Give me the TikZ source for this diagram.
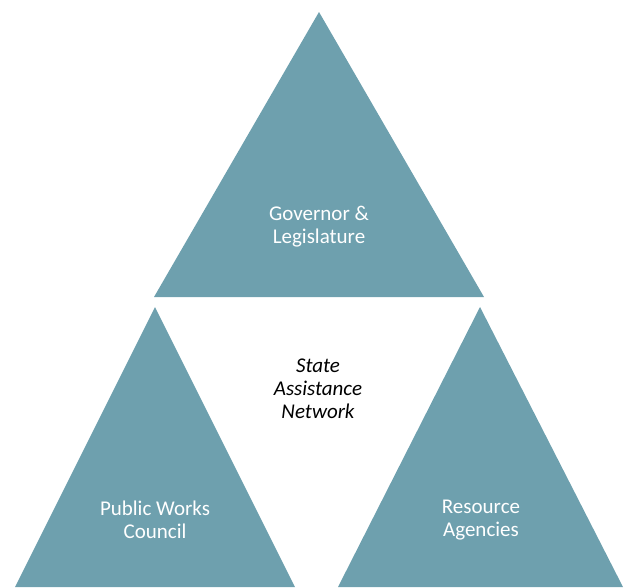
\documentclass[tikz,border=0pt]{standalone}
\usepackage{fontspec}
\setmainfont{Carlito}
\begin{document}
\begin{tikzpicture}[x=1pt,y=-1pt,
  tri/.style={fill=triblue,draw=none},
  lbl/.style={text=white,align=center,font=\fontsize{21}{23}\selectfont},
  mid/.style={text=black,align=center,font=\fontsize{21}{23}\selectfont\itshape}]
\definecolor{triblue}{RGB}{110,160,174}
\useasboundingbox (0,0) rectangle (629,587);
\fill[tri] (319,12) coordinate (t1) -- (484,297) coordinate (t2) -- (154,297) coordinate (t3) -- cycle;
\fill[tri] (155,307) coordinate (l1) -- (295,587) coordinate (l2) -- (15,587) coordinate (l3) -- cycle;
\fill[tri] (480,307) coordinate (r1) -- (623,587) coordinate (r2) -- (338,587) coordinate (r3) -- cycle;
\node[lbl] (gov) at (319,227) {Governor \&\\Legislature};
\node[lbl] (pwc) at (155,520) {Public Works\\Council};
\node[lbl] (res) at (481,520) {Resource\\Agencies};
\node[mid] (san) at (318,389) {State\\Assistance\\Network};
\end{tikzpicture}
\end{document}
